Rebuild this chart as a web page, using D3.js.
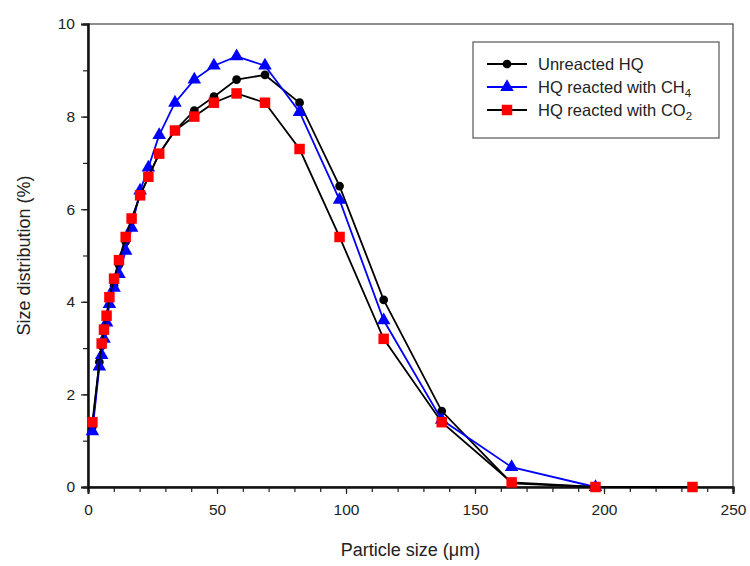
<!DOCTYPE html>
<html>
<head>
<meta charset="utf-8">
<script src="https://cdn.jsdelivr.net/npm/d3@7"></script>
<style>
  body { margin: 0; background: #fff; }
  text { font-family: "Liberation Sans", Arial, sans-serif; fill: #222; }
</style>
</head>
<body>
<div id="container"></div>
<script>
// particle size bins (um)
const sizeBins = [1.7, 4.4, 5.3, 6.2, 7.2, 8.3, 10.1, 12.0, 14.6, 16.9, 20.2, 23.4, 27.6,
  33.7, 41.2, 48.8, 57.6, 68.6, 82.0, 97.5, 114.6, 137.1, 164.2, 196.7, 234.3];

const unreacted = [1.3, 2.7, 3.05, 3.35, 3.7, 4.05, 4.35, 4.8, 5.3, 5.75, 6.3, 6.7, 7.2,
  7.7, 8.13, 8.43, 8.8, 8.9, 8.3, 6.5, 4.04, 1.64, 0.08, 0, 0];
const reactedCH4 = [1.2, 2.6, 2.85, 3.2, 3.55, 3.95, 4.3, 4.6, 5.1, 5.6, 6.4, 6.9, 7.6,
  8.3, 8.8, 9.1, 9.3, 9.1, 8.1, 6.2, 3.6, 1.45, 0.43, 0, null];
const reactedCO2 = [1.4, null, 3.1, 3.4, 3.7, 4.1, 4.5, 4.9, 5.4, 5.8, 6.3, 6.7, 7.2,
  7.7, 8.0, 8.3, 8.5, 8.3, 7.3, 5.4, 3.2, 1.4, 0.1, 0, 0];

const xTicks = [0, 50, 100, 150, 200, 250];
const yTicks = [0, 2, 4, 6, 8, 10];

const width = 750, height = 566;
const margin = { top: 24, right: 17, bottom: 79, left: 88 };

const svg = d3.select("#container").append("svg")
  .attr("width", width).attr("height", height);

const x = d3.scaleLinear().domain([0, 250]).range([margin.left, width - margin.right]);
const y = d3.scaleLinear().domain([0, 10]).range([height - margin.bottom, margin.top]);

// frame (top + right)
svg.append("rect")
  .attr("x", x(0)).attr("y", y(10))
  .attr("width", x(250) - x(0)).attr("height", y(0) - y(10))
  .attr("fill", "none").attr("stroke", "#444").attr("stroke-width", 1.2);

// x axis
const xMinor = svg.append("g").attr("transform", `translate(0,${y(0)})`)
  .call(d3.axisBottom(x).tickValues(d3.range(0, 251, 10)).tickSize(5).tickFormat(""));
const xAxis = svg.append("g").attr("transform", `translate(0,${y(0)})`)
  .call(d3.axisBottom(x).tickValues(xTicks).tickSize(7).tickPadding(10).tickFormat(d3.format("d")));

// y axis
const yMinor = svg.append("g").attr("transform", `translate(${x(0)},0)`)
  .call(d3.axisLeft(y).tickValues(d3.range(0, 10.1, 1)).tickSize(5).tickFormat(""));
const yAxis = svg.append("g").attr("transform", `translate(${x(0)},0)`)
  .call(d3.axisLeft(y).tickValues(yTicks).tickSize(7).tickPadding(6).tickFormat(d3.format("d")));

[xMinor, xAxis, yMinor, yAxis].forEach(g => {
  g.select(".domain").attr("stroke", "#111").attr("stroke-width", 2);
  g.selectAll(".tick line").attr("stroke", "#222").attr("stroke-width", 1.2);
  g.selectAll(".tick text").attr("font-size", 15.5).style("fill", "#222")
    .attr("font-family", "Liberation Sans, Arial, sans-serif");
});

// axis titles
svg.append("text")
  .attr("x", (x(0) + x(250)) / 2).attr("y", 556)
  .attr("text-anchor", "middle").attr("font-size", 18)
  .text("Particle size (\u03bcm)");
svg.append("text")
  .attr("transform", `translate(30,${(y(0) + y(10)) / 2}) rotate(-90)`)
  .attr("text-anchor", "middle").attr("font-size", 18)
  .text("Size distribution (%)");

const series = [
  { name: "Unreacted HQ", sub: "", values: unreacted, line: "#000", fill: "#000", shape: d3.symbolCircle, size: 60 },
  { name: "HQ reacted with CH", sub: "4", values: reactedCH4, line: "#0000ff", fill: "#0000ff", shape: d3.symbolTriangle, size: 80 },
  { name: "HQ reacted with CO", sub: "2", values: reactedCO2, line: "#000", fill: "#ff0000", shape: d3.symbolSquare, size: 110 }
];

const lineGen = d3.line().x(d => x(d[0])).y(d => y(d[1]));

series.forEach(s => {
  const pts = sizeBins.map((b, i) => [b, s.values[i]]).filter(d => d[1] != null);
  svg.append("path")
    .datum(pts)
    .attr("d", lineGen)
    .attr("fill", "none")
    .attr("stroke", s.line)
    .attr("stroke-width", 1.8);
  svg.selectAll(null)
    .data(pts)
    .join("path")
    .attr("d", d3.symbol().type(s.shape).size(s.size))
    .attr("transform", d => `translate(${x(d[0])},${y(d[1])})`)
    .attr("fill", s.fill);
});

// legend
const legend = svg.append("g");
legend.append("rect")
  .attr("x", 473).attr("y", 42).attr("width", 246).attr("height", 96)
  .attr("fill", "#fff").attr("stroke", "#555").attr("stroke-width", 1.2);

series.forEach((s, i) => {
  const ly = 64 + i * 23;
  legend.append("line")
    .attr("x1", 487).attr("x2", 527).attr("y1", ly).attr("y2", ly)
    .attr("stroke", s.line).attr("stroke-width", 1.8);
  legend.append("path")
    .attr("d", d3.symbol().type(s.shape).size(s.size))
    .attr("transform", `translate(507,${ly})`)
    .attr("fill", s.fill);
  const t = legend.append("text")
    .attr("x", 538).attr("y", ly + 6).attr("font-size", 16.5)
    .text(s.name);
  if (s.sub) {
    t.append("tspan").attr("dy", 4).attr("font-size", 11.5).text(s.sub);
  }
});
</script>
</body>
</html>
